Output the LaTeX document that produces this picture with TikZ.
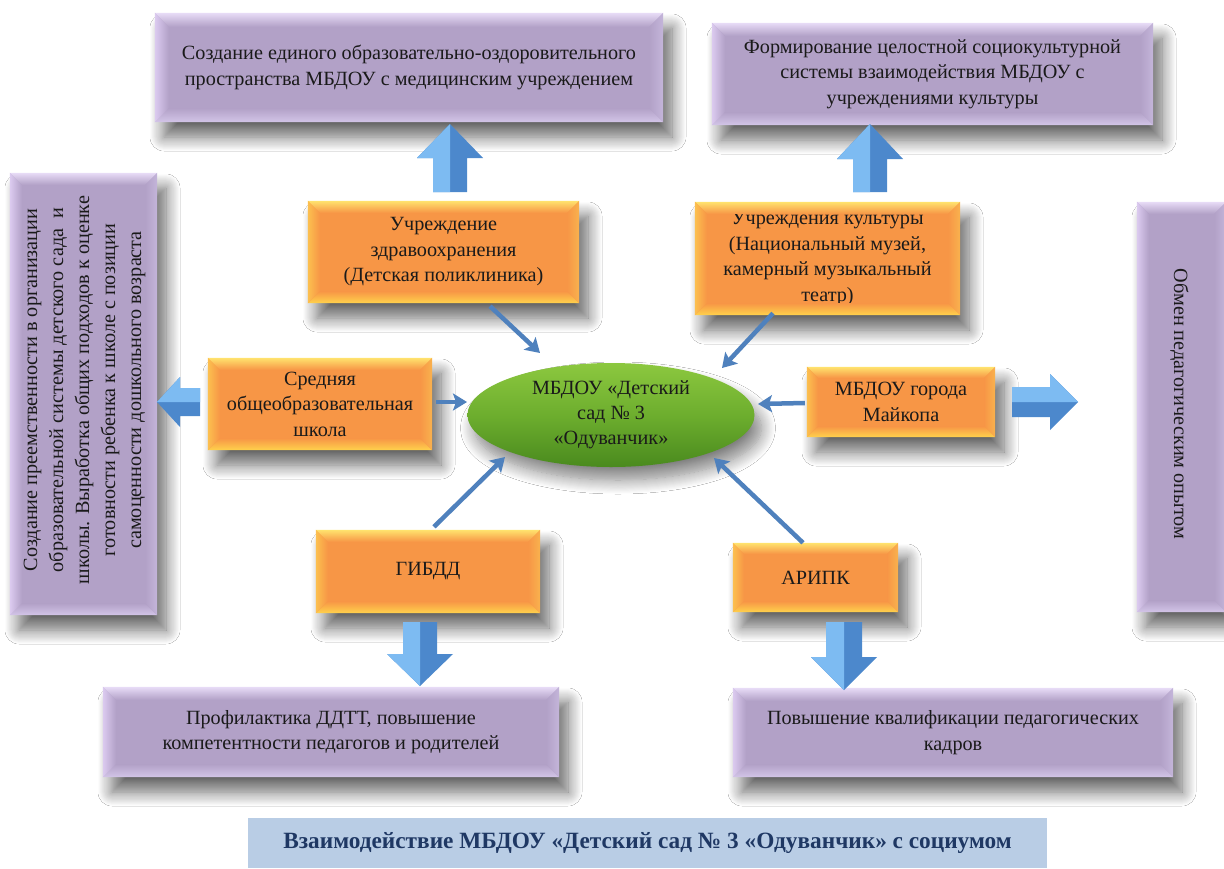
\documentclass[tikz,border=0pt]{standalone}
\usepackage{fontspec}
\setmainfont{Liberation Serif}
\usetikzlibrary{calc,shadows.blur,arrows.meta,shapes.geometric}

\definecolor{purp}{HTML}{B2A1C7}
\definecolor{purpL}{HTML}{E8DCF7}
\definecolor{purpS}{HTML}{DCCBF0}
\definecolor{purpB}{HTML}{D3C5E8}
\definecolor{purpD}{HTML}{C4B5DA}
\definecolor{orng}{HTML}{F79646}
\definecolor{orngL}{HTML}{FFE36E}
\definecolor{orngS}{HTML}{FCC04F}
\definecolor{orngB}{HTML}{FFD24C}
\definecolor{orngD}{HTML}{F9B24E}
\definecolor{conn}{HTML}{4F81BD}
\definecolor{blkL}{HTML}{7DBBF2}
\definecolor{blkD}{HTML}{4C88CC}
\definecolor{banner}{HTML}{B9CDE5}
\definecolor{navy}{HTML}{1F3864}
\definecolor{gTop}{HTML}{8CC83F}
\definecolor{gMid}{HTML}{6DAE2E}
\definecolor{gBot}{HTML}{4A8A1E}
\definecolor{txt}{HTML}{1A1A1A}

\newcommand\bevel[3]{%
 \shade[top color=#3L, bottom color=#3] (#1.north west) -- (#1.north east) -- ($(#1.north east)+(-#2,#2)$) -- ($(#1.north west)+(#2,#2)$) -- cycle;
 \shade[top color=#3, bottom color=#3B] (#1.south west) -- (#1.south east) -- ($(#1.south east)+(-#2,-#2)$) -- ($(#1.south west)+(#2,-#2)$) -- cycle;
 \shade[left color=#3S, right color=#3] (#1.north west) -- ($(#1.north west)+(#2,#2)$) -- ($(#1.south west)+(#2,-#2)$) -- (#1.south west) -- cycle;
 \shade[left color=#3, right color=#3D] (#1.north east) -- ($(#1.north east)+(-#2,#2)$) -- ($(#1.south east)+(-#2,-#2)$) -- (#1.south east) -- cycle;
}
% block arrow: tip x, tip y, rotation, length, head length, head half width, shaft half width, light side sign
\newcommand\barr[8]{%
 \begin{scope}[shift={(#1,#2)},rotate=#3]
  \fill[blkD] (0,0) -- (-#5,#6) -- (-#5,#7) -- (-#4,#7) -- (-#4,-#7) -- (-#5,-#7) -- (-#5,-#6) -- cycle;
  \fill[blkL] (0,0) -- (-#5,#8*#6) -- (-#5,#8*#7) -- (-#4,#8*#7) -- (-#4,0) -- cycle;
 \end{scope}}

\begin{document}
\begin{tikzpicture}[x=1pt,y=-1pt,
  box/.style={rectangle, inner sep=0pt, align=center, text=txt,
    font=\fontsize{20.2}{25.5}\selectfont,
    blur shadow={shadow xshift=9pt, shadow yshift=-15pt, shadow blur radius=14pt,
      shadow blur steps=14, shadow opacity=60}},
  pbox/.style={box, fill=purp},
  obox/.style={box, fill=orng},
  link/.style={conn, line width=4.5pt, -{Stealth[length=14pt,width=17pt,inset=3pt]}},
  vtext/.style={align=center, text=txt, font=\fontsize{20.2}{26}\selectfont, inner sep=0pt}
]
\useasboundingbox (0,0) rectangle (1224,868);
\fill[white] (0,0) rectangle (1224,868);

% outcome boxes
\node[pbox, minimum width=508, minimum height=109] (tl) at (409,67.5)
  {Создание единого образовательно-оздоровительного\\пространства МБДОУ с медицинским учреждением};
\bevel{tl}{14}{purp}
\node[pbox, minimum width=441, minimum height=102] (tr) at (932.5,74)
  {Формирование целостной социокультурной\\системы взаимодействия МБДОУ с\\учреждениями культуры};
\bevel{tr}{13}{purp}
\node[pbox, minimum width=147, minimum height=442] (lv) at (83.5,394) {};
\bevel{lv}{12}{purp}
\node[vtext, rotate=90] (lvt) at ($(lv.center)+(1,-4)$)
  {Создание преемственности в организации\\образовательной системы детского сада\ \ и\\школы. Выработка общих подходов к оценке\\готовности ребенка к школе с позиции\\самоценности дошкольного возраста};
\node[pbox, minimum width=89, minimum height=410] (rv) at (1181.5,407) {};
\bevel{rv}{12}{purp}
\node[vtext, rotate=-90] (rvt) at ($(rv.center)+(-2,-3)$) {Обмен педагогическим опытом};
\node[pbox, minimum width=456, minimum height=90] (bl) at (331,732)
  {Профилактика ДДТТ, повышение\\компетентности педагогов и родителей};
\bevel{bl}{13}{purp}
\node[pbox, minimum width=440, minimum height=89] (br) at (953,732.5)
  {Повышение квалификации педагогических\\кадров};
\bevel{br}{13}{purp}

% partner boxes
\node[obox, minimum width=271, minimum height=102] (zdrav) at (443.5,252)
  {Учреждение\\здравоохранения\\(Детская поликлиника)};
\bevel{zdrav}{12}{orng}
\node[obox, minimum width=265, minimum height=113] (kult) at (827.5,258.5)
  {Учреждения культуры\\(Национальный музей,\\камерный музыкальный\\театр)};
\bevel{kult}{12}{orng}
\node[obox, minimum width=224, minimum height=92] (school) at (320,404)
  {Средняя\\общеобразовательная\\школа};
\bevel{school}{12}{orng}
\node[obox, minimum width=188, minimum height=70] (maykop) at (901,402)
  {МБДОУ города\\Майкопа};
\bevel{maykop}{11}{orng}
\node[obox, minimum width=224, minimum height=83] (gibdd) at (428,571.5) {ГИБДД};
\bevel{gibdd}{12}{orng}
\node[obox, minimum width=165, minimum height=69] (aripk) at (815.5,577.5) {АРИПК};
\bevel{aripk}{11}{orng}

% centre
\node[ellipse, inner sep=0pt, minimum width=287, minimum height=104,
  top color=gTop, bottom color=gBot, middle color=gMid, align=center, text=txt,
  font=\fontsize{20.2}{25}\selectfont,
  blur shadow={shadow xshift=7pt, shadow yshift=-13pt, shadow blur radius=14pt,
    shadow blur steps=14, shadow opacity=50}]
  (mb) at (611,415) {МБДОУ «Детский\\сад № 3\\«Одуванчик»};

% thin connectors
\draw[link] ($(zdrav.south)+(46.5,3)$) -- ($(mb.center)+(-71,-62)$);
\draw[link] ($(kult.south)+(-54.5,-2)$) -- ($(mb.center)+(111,-47)$);
\draw[link] ($(school.east)+(4,-2)$) -- ($(mb.center)+(-144,-13)$);
\draw[link] ($(maykop.west)+(-2,1)$) -- ($(mb.center)+(147,-11)$);
\draw[link] ($(gibdd.north)+(6,-3)$) -- ($(mb.center)+(-106,42)$);
\draw[link] ($(aripk.north)+(-12.5,0)$) -- ($(mb.center)+(103,43)$);

% block arrows
\barr{450}{124}{90}{68}{34}{33}{17}{-1}
\barr{870}{124}{90}{68}{35}{33}{17}{-1}
\barr{157}{402}{180}{43}{23}{25}{14}{1}
\barr{1078}{402}{0}{66}{28}{28}{15}{-1}
\barr{420}{686}{-90}{64}{32}{33}{17}{1}
\barr{844}{690}{-90}{68}{33}{33}{18}{1}

% banner
\node[rectangle, fill=banner, minimum width=799, minimum height=50, inner sep=0pt,
  font=\fontsize{23.3}{27}\selectfont\bfseries, text=navy] (title) at (647.5,843)
  {Взаимодействие МБДОУ «Детский сад № 3 «Одуванчик» с социумом};
\end{tikzpicture}
\end{document}
